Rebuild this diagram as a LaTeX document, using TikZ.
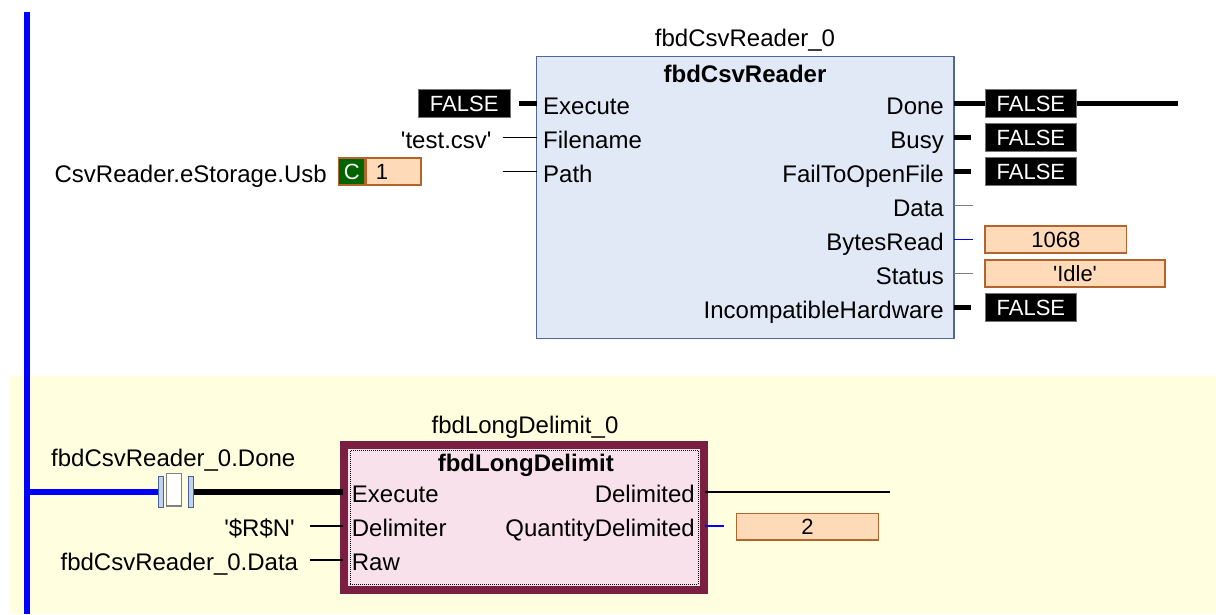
\documentclass[tikz,border=0pt]{standalone}
\usepackage{fontspec}
\setmainfont{Liberation Sans}
\definecolor{ybg}{RGB}{255,255,224}
\definecolor{cbF}{RGB}{225,233,247}
\definecolor{cbB}{RGB}{78,104,150}
\definecolor{railblue}{RGB}{0,0,255}
\definecolor{peach}{RGB}{255,218,185}
\definecolor{peachb}{RGB}{180,100,40}
\definecolor{cgreen}{RGB}{0,100,0}
\definecolor{maroon}{RGB}{123,31,66}
\definecolor{pinkf}{RGB}{248,225,234}
\definecolor{barfill}{RGB}{195,210,235}
\definecolor{barline}{RGB}{70,100,160}
\begin{document}
\begin{tikzpicture}[x=1pt,y=-1pt,
  txt/.style={font=\fontsize{24}{28}\selectfont, inner sep=0pt, text=black},
  txtb/.style={font=\fontsize{24}{28}\selectfont\bfseries, inner sep=0pt, text=black},
  inl/.style={txt, anchor=base west},
  outl/.style={txt, anchor=base east},
  falsebox/.style={fill=black, draw=black!55, line width=0.8pt, text=white,
    font=\fontsize{22}{26}\selectfont, minimum width=91.7pt, minimum height=28pt, inner sep=0pt},
  valbox/.style={fill=peach, draw=peachb, line width=1.5pt, text=black,
    font=\fontsize{22}{26}\selectfont, minimum height=26.7pt, inner sep=0pt},
  thickw/.style={line width=5pt, black},
  thinw/.style={line width=1.3pt, black},
  greyw/.style={line width=1.3pt, black!50},
  bluew/.style={line width=1.3pt, railblue},
  cbar/.style={fill=barfill, draw=barline, line width=1pt, minimum width=5pt, minimum height=31.6pt, inner sep=0pt}
]
\useasboundingbox (0,0) rectangle (1216,614);
% background of second network
\fill[ybg] (10,376) rectangle (1216,614);
% power rail
\coordinate (railtop) at (26.7,12);
\coordinate (railbot) at (26.7,614);
\draw[railblue, line width=6pt] (railtop) -- (railbot);

% ===== fbdCsvReader block =====
\node[draw=cbB, fill=cbF, line width=1.5pt, minimum width=417.3pt, minimum height=281.6pt, inner sep=0pt] (csv) at (745.35,197.5) {};
\node[txt, anchor=base] (csvinst) at (745,46.5) {fbdCsvReader\_0};
\node[txtb, anchor=base] (csvtype) at (745,82.5) {fbdCsvReader};

% input pins
\coordinate (ci0) at (536.7,103.5);
\coordinate (ci1) at (536.7,137.5);
\coordinate (ci2) at (536.7,171.5);
\node[inl] (lexec) at (543,114) {Execute};
\node[inl] (lfile) at (543,148) {Filename};
\node[inl] (lpath) at (543,182) {Path};

% output pins
\coordinate (co0) at (954,103.5);
\coordinate (co1) at (954,137.5);
\coordinate (co2) at (954,171.5);
\coordinate (co3) at (954,205.5);
\coordinate (co4) at (954,239.5);
\coordinate (co5) at (954,273.5);
\coordinate (co6) at (954,307.5);
\node[outl] (ldone) at (944,114) {Done};
\node[outl] (lbusy) at (944,148) {Busy};
\node[outl] (lfail) at (944,182) {FailToOpenFile};
\node[outl] (ldata) at (944,216) {Data};
\node[outl] (lbytes) at (944,250) {BytesRead};
\node[outl] (lstat) at (944,284) {Status};
\node[outl] (lincomp) at (944,318) {IncompatibleHardware};

% inputs
\node[falsebox] (fin) at (464.2,103.5) {FALSE};
\draw[thickw, shorten <=9pt] (fin) -- (ci0);
\node[outl] (tcsv) at (491.7,148) {\textquotesingle test.csv\textquotesingle};
\coordinate (si1) at (502.7,137.5);
\draw[thinw] (si1) -- (ci1);
\node[outl] (lusb) at (327,182.2) {CsvReader.eStorage.Usb};
\node[valbox, anchor=west, text width=35pt, inner xsep=10pt, align=left] (vone) at (365,171.5) {1};
\node[fill=cgreen, draw=peachb, line width=1.5pt, text=white, font=\fontsize{22}{26}\selectfont, minimum width=26.7pt, minimum height=26.7pt, inner sep=0pt] (cbox) at (351.7,171.5) {C};
\coordinate (si2) at (502.7,171.5);
\draw[thinw] (si2) -- (ci2);

% outputs
\node[falsebox] (fdone) at (1030.85,103.5) {FALSE};
\coordinate (doneend) at (1178.3,103.5);
\draw[thickw] (co0) -- (fdone);
\draw[thickw] (fdone) -- (doneend);
\coordinate (sb) at (970.7,137.5);
\draw[thickw] (co1) -- (sb);
\node[falsebox] (fbusy) at (1030.85,137.5) {FALSE};
\coordinate (sf) at (970.7,171.5);
\draw[thickw] (co2) -- (sf);
\node[falsebox] (ffail) at (1030.85,171.5) {FALSE};
\coordinate (sd) at (972.7,205.5);
\draw[greyw] (co3) -- (sd);
\coordinate (sby) at (972.7,239.5);
\draw[bluew] (co4) -- (sby);
\node[valbox, minimum width=141.7pt] (vbytes) at (1055.85,239.5) {1068};
\coordinate (sst) at (972.7,273.5);
\draw[greyw] (co5) -- (sst);
\node[valbox, minimum width=180pt] (vstat) at (1075,273.5) {\textquotesingle Idle\textquotesingle};
\coordinate (sih) at (970.7,307.5);
\draw[thickw] (co6) -- (sih);
\node[falsebox] (fincomp) at (1030.85,307.5) {FALSE};

% ===== second network =====
% contact
\node[cbar] (cl) at (160.8,492) {};
\node[draw=black!50, fill=white, line width=1.2pt, minimum width=15pt, minimum height=32.7pt, inner sep=0pt] (cm) at (174.2,489.7) {};
\node[cbar] (cr) at (191.2,492) {};
\node[txt, anchor=base] (cname) at (173.3,466.7) {fbdCsvReader\_0.Done};
\coordinate (railc) at (26.7,492);
\draw[railblue, line width=5.5pt] (railc) -- (cl);

% fbdLongDelimit block
\node[draw=maroon, fill=pinkf, line width=8pt, minimum width=360.3pt, minimum height=145.6pt, inner sep=0pt] (ld) at (524.15,517.5) {};
\node[draw=black, dash pattern=on 1pt off 1pt, line width=1pt, minimum width=348pt, minimum height=133.6pt, inner sep=0pt] (ldin) at (524,517.5) {};
\node[txt, anchor=base] (ldinst) at (525,433.3) {fbdLongDelimit\_0};
\node[txtb, anchor=base] (ldtype) at (525.8,471.5) {fbdLongDelimit};

\coordinate (li0) at (343.3,492);
\coordinate (li1) at (343.3,526);
\coordinate (li2) at (343.3,560);
\node[inl] (llexec) at (351.7,502.5) {Execute};
\node[inl] (lldelim) at (351.7,536.5) {Delimiter};
\node[inl] (llraw) at (351.7,570.5) {Raw};
\coordinate (lo0) at (705,492);
\coordinate (lo1) at (705,526);
\node[outl] (lldone) at (695,502.5) {Delimited};
\node[outl] (llqty) at (695,536.5) {QuantityDelimited};

\draw[line width=5.5pt] (cr) -- (li0);
\node[outl] (rsn) at (295,536.5) {\textquotesingle\$R\$N\textquotesingle};
\coordinate (s1) at (310,526);
\draw[thinw] (s1) -- (li1);
\node[outl] (rdata) at (298.3,570.5) {fbdCsvReader\_0.Data};
\coordinate (s2) at (310,560);
\draw[thinw] (s2) -- (li2);

\coordinate (delend) at (890,492);
\draw[thinw] (lo0) -- (delend);
\coordinate (sq) at (724.3,526);
\draw[bluew] (lo1) -- (sq);
\node[valbox, minimum width=141.6pt] (vq) at (807.5,526.7) {2};
\end{tikzpicture}
\end{document}
